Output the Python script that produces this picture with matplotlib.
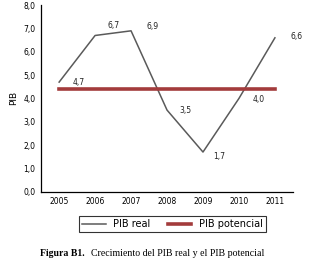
import matplotlib.pyplot as plt

years = [2005, 2006, 2007, 2008, 2009, 2010, 2011]
pib_real = [4.7, 6.7, 6.9, 3.5, 1.7, 4.0, 6.6]
pib_potencial = [4.4, 4.4, 4.4, 4.4, 4.4, 4.4, 4.4]
labels = ['4,7', '6,7', '6,9', '3,5', '1,7', '4,0', '6,6']
label_offsets = [(10, 0), (9, 7), (11, 3), (9, 0), (7, -3), (10, -1), (11, 1)]

fig = plt.figure(figsize=(3.24, 2.59), dpi=100)
ax = fig.add_axes([0.127, 0.26, 0.777, 0.72])

ax.plot(years, pib_real, color='#5a5a5a', lw=1.1, label='PIB real')
ax.plot(years, pib_potencial, color='#a33b3c', lw=2.6, label='PIB potencial')

for x, y, t, off in zip(years, pib_real, labels, label_offsets):
    ax.annotate(t, (x, y), xytext=off, textcoords='offset points',
                fontsize=5.5, ha='left', va='center', color='#222222')

ax.set_xlim(2004.5, 2011.5)
ax.set_ylim(0, 8)
ax.set_xticks(years)
ax.set_xticklabels([str(y) for y in years])
ax.set_yticks(range(0, 9))
ax.set_yticklabels([f'{v},0' for v in range(0, 9)])
ax.tick_params(length=0, labelsize=5.5, pad=4)
ax.spines['top'].set_visible(False)
ax.spines['right'].set_visible(False)
ax.spines['left'].set_linewidth(0.9)
ax.spines['bottom'].set_linewidth(0.9)
ax.set_ylabel('PIB', fontsize=6.5, labelpad=4)

leg = fig.legend(loc='center', bbox_to_anchor=(0.533, 0.135), ncol=2,
                 fontsize=7, frameon=True, fancybox=False,
                 edgecolor='black', handlelength=2.4, columnspacing=1.8,
                 borderpad=0.3)
leg.get_frame().set_linewidth(0.8)

fig.text(0.123, 0.012, 'Figura B1.', fontsize=7, family='Liberation Serif',
         weight='bold', va='baseline')
fig.text(0.28, 0.012, 'Crecimiento del PIB real y el PIB potencial',
         fontsize=7.1, family='Liberation Serif', va='baseline')

fig.savefig('out.png', dpi=100)
